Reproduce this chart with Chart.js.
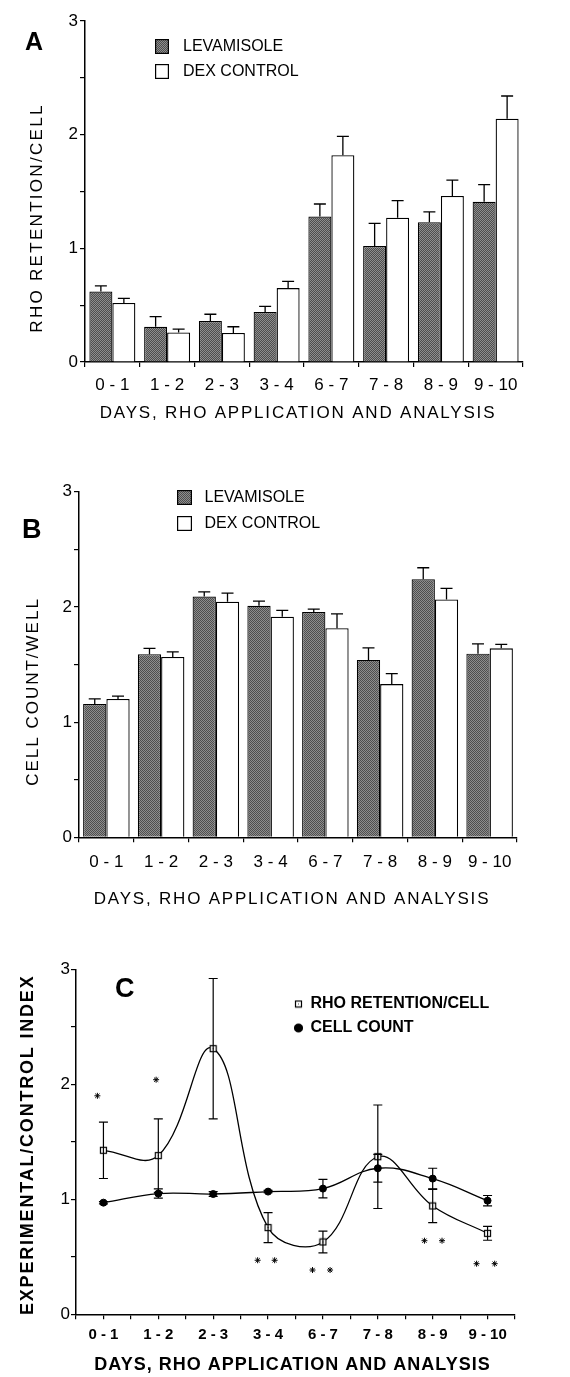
<!DOCTYPE html>
<html><head><meta charset="utf-8">
<script src="https://cdn.jsdelivr.net/npm/chart.js@4.4.1/dist/chart.umd.min.js"></script>
<style>
html,body{margin:0;padding:0;background:#fff;}
body{width:570px;height:1377px;position:relative;overflow:hidden;}
canvas{position:absolute;left:0;}
</style></head><body>
<canvas id="cA" width="570" height="425" style="top:0;width:570px;height:425px"></canvas>
<canvas id="cB" width="570" height="485" style="top:425px;width:570px;height:485px"></canvas>
<canvas id="cC" width="570" height="467" style="top:910px;width:570px;height:467px"></canvas>
<script>
// ---------- data ----------
const days = ['0 - 1','1 - 2','2 - 3','3 - 4','6 - 7','7 - 8','8 - 9','9 - 10'];
const yTickLabels = ['0','1','2','3'];
// Panel A: RHO retention / cell
const rhoLev    = [0.62, 0.31, 0.36, 0.44, 1.28, 1.02, 1.23, 1.41];
const rhoLevErr = [0.05, 0.09, 0.06, 0.05, 0.11, 0.20, 0.09, 0.15];
const rhoDex    = [0.52, 0.26, 0.255, 0.65, 1.82, 1.27, 1.46, 2.14];
const rhoDexErr = [0.04, 0.03, 0.055, 0.06, 0.165, 0.15, 0.14, 0.20];
// Panel B: cell count / well
const cellLev    = [1.157, 1.59, 2.09, 2.01, 1.955, 1.54, 2.24, 1.594];
const cellLevErr = [0.045, 0.05, 0.04, 0.04, 0.025, 0.105, 0.10, 0.085];
const cellDex    = [1.20, 1.565, 2.045, 1.915, 1.815, 1.33, 2.065, 1.64];
const cellDexErr = [0.025, 0.045, 0.075, 0.055, 0.125, 0.09, 0.095, 0.035];
// Panel C: experimental / control index
const rhoIndex     = [1.426, 1.38, 2.31, 0.754, 0.629, 1.37, 0.942, 0.704];
const rhoIndexErr  = [0.245, 0.32, 0.61, 0.13, 0.095, 0.45, 0.145, 0.06];
const cellIndex    = [0.971, 1.05, 1.046, 1.067, 1.093, 1.27, 1.18, 0.988];
const cellIndexErr = [0.01, 0.04, 0.02, 0.01, 0.08, 0.12, 0.09, 0.045];
// significance asterisks (x in category units, y in index units)
const starX = [-0.11, 0.96, 2.81, 3.12, 3.81, 4.13, 5.85, 6.17, 6.80, 7.13];
const starY = [1.90, 2.04, 0.47, 0.47, 0.385, 0.385, 0.64, 0.64, 0.44, 0.44];

// ---------- styles ----------
Chart.defaults.font.family = "'Liberation Sans', Arial, Helvetica, sans-serif";
Chart.defaults.color = '#000';

function makePattern() {
  const t = document.createElement('canvas'); t.width = 2; t.height = 2;
  const g = t.getContext('2d');
  g.fillStyle = '#4e4e4e'; g.fillRect(0, 0, 2, 2);
  g.fillStyle = '#8e8e8e'; g.fillRect(0, 0, 1, 1); g.fillRect(1, 1, 1, 1);
  return document.createElement('canvas').getContext('2d').createPattern(t, 'repeat');
}
const stipple = makePattern();
function legendBox(fill, w, h) {
  const c = document.createElement('canvas'); c.width = w; c.height = h;
  const g = c.getContext('2d');
  g.fillStyle = fill; g.fillRect(0, 0, w, h);
  g.strokeStyle = '#000'; g.lineWidth = 1.2; g.strokeRect(0.6, 0.6, w - 1.2, h - 1.2);
  return c;
}
function squareMarker() {
  const c = document.createElement('canvas'); c.width = 9; c.height = 9;
  const g = c.getContext('2d');
  g.fillStyle = '#fff'; g.fillRect(1, 1, 7, 7);
  g.strokeStyle = '#000'; g.lineWidth = 1.2; g.strokeRect(1.5, 1.5, 6, 6);
  g.fillStyle = '#444'; g.fillRect(4, 4, 1, 1);
  return c;
}
const sqImg = squareMarker();

// ---------- plugins ----------
const titleTweak = {
  id: 'titleTweak',
  beforeDraw(chart, args, opts) {
    ['x', 'y'].forEach(id => {
      const s = chart.scales[id]; const o = opts[id];
      if (!s || !o || s._tweaked) return;
      const sp = o.sp || 0, dx = o.dx || 0, dy = o.dy || 0;
      const orig = s.drawTitle.bind(s);
      s.drawTitle = function () {
        const c = this.ctx; c.save();
        c.letterSpacing = sp + 'px'; c.translate(dx, dy);
        orig(); c.restore();
      };
      s._tweaked = true;
    });
  }
};
const legendPos = {
  id: 'legendPos',
  beforeDraw(chart, args, opts) {
    const lg = chart.legend; if (!lg) return;
    lg.left = opts.left; lg.top = opts.top;
    lg.right = opts.left + 300; lg.bottom = opts.top + 200;
  }
};
const panelLabel = {
  id: 'panelLabel',
  afterDraw(chart, args, o) {
    const c = chart.ctx; c.save();
    c.font = o.font; c.fillStyle = '#000'; c.textBaseline = 'alphabetic';
    c.fillText(o.text, o.x, o.y); c.restore();
  }
};
const errorBars = {
  id: 'errorBars',
  afterDatasetsDraw(chart, args, opts) {
    const ctx = chart.ctx, ys = chart.scales.y;
    chart.data.datasets.forEach((ds, di) => {
      if (!ds.errors) return;
      const meta = chart.getDatasetMeta(di);
      ctx.save(); ctx.strokeStyle = '#000'; ctx.lineWidth = opts.width;
      meta.data.forEach((el, i) => {
        const v = ds.data[i]; const val = (typeof v === 'object') ? v.y : v;
        const e = ds.errors[i];
        const top = ys.getPixelForValue(val + e);
        const bot = opts.both ? ys.getPixelForValue(val - e) : el.y;
        const x = el.x, c = opts.cap;
        ctx.beginPath();
        ctx.moveTo(x, bot); ctx.lineTo(x, top);
        ctx.moveTo(x - c, top); ctx.lineTo(x + c, top);
        if (opts.both) { ctx.moveTo(x - c, bot); ctx.lineTo(x + c, bot); }
        ctx.stroke();
      });
      ctx.restore();
    });
  }
};
const allPlugins = [titleTweak, legendPos, panelLabel, errorBars];

const intLabel = v => Number.isInteger(v) ? yTickLabels[v] : '';
const legendImgLabels = chart => {
  const items = Chart.defaults.plugins.legend.labels.generateLabels(chart);
  items.forEach(it => { const ds = chart.data.datasets[it.datasetIndex]; if (ds.legendImg) it.pointStyle = ds.legendImg; });
  return items;
};

function barChart(id, cfg) {
  return new Chart(document.getElementById(id), {
    type: 'bar',
    data: {
      labels: days,
      datasets: [
        { label: 'LEVAMISOLE', data: cfg.lev, errors: cfg.levErr, backgroundColor: stipple,
          borderColor: '#000', borderWidth: 1.2, legendImg: legendBox(stipple, cfg.box[0], cfg.box[1]),
          categoryPercentage: cfg.catPct, barPercentage: 1.0 },
        { label: 'DEX CONTROL', data: cfg.dex, errors: cfg.dexErr, backgroundColor: '#fff',
          borderColor: '#000', borderWidth: 1.3, legendImg: legendBox('#fff', cfg.box[0], cfg.box[1]),
          categoryPercentage: cfg.catPct, barPercentage: 1.0 }
      ]
    },
    options: {
      responsive: false, animation: false, devicePixelRatio: 1, events: [],
      layout: { padding: cfg.pad, autoPadding: false },
      scales: {
        x: {
          offset: true,
          grid: { offset: true, drawOnChartArea: false, tickLength: 5, color: '#000', lineWidth: 1.2 },
          border: { color: '#000', width: 1.5 },
          ticks: { color: '#000', font: { size: 17 }, padding: cfg.xTickPad, maxRotation: 0, autoSkip: false },
          title: { display: true, text: 'DAYS, RHO APPLICATION AND ANALYSIS', color: '#000', font: { size: 17 },
                   padding: { top: 0, bottom: cfg.xTitlePad } },
          afterFit: s => { s.height = cfg.xH; }
        },
        y: {
          min: 0, max: 3,
          grid: { drawOnChartArea: false, tickLength: 5, color: '#000', lineWidth: 1.2 },
          border: { color: '#000', width: 1.5 },
          ticks: { stepSize: 0.5, callback: intLabel, color: '#000', font: { size: 17 }, padding: 2 },
          title: { display: true, text: cfg.yTitle, color: '#000', font: { size: 17 },
                   padding: { top: cfg.yTitlePad, bottom: 0 } },
          afterFit: s => { s.width = cfg.yW; }
        }
      },
      plugins: {
        tooltip: { enabled: false },
        legend: {
          position: 'chartArea', align: 'start',
          labels: { usePointStyle: true, pointStyleWidth: cfg.psw, padding: cfg.legPad, color: '#000',
                    font: { size: 16 }, textAlign: 'left', generateLabels: legendImgLabels }
        },
        legendPos: cfg.legPos,
        titleTweak: cfg.tweak,
        panelLabel: cfg.panel,
        errorBars: { width: 1.3, cap: 6, both: false }
      }
    },
    plugins: allPlugins
  });
}

barChart('cA', {
  lev: rhoLev, levErr: rhoLevErr, dex: rhoDex, dexErr: rhoDexErr,
  catPct: 0.84, box: [14, 15], psw: 26, legPad: 9, legPos: { left: 140, top: 29.5 },
  pad: { left: 0, top: 21, right: 47, bottom: 0 }, xH: 63, yW: 85,
  xTickPad: 8, xTitlePad: 1.8, yTitlePad: 26.8, yTitle: 'RHO RETENTION/CELL',
  tweak: { x: { sp: 1.8, dx: -6, dy: 0 }, y: { sp: 2.3, dx: 0, dy: 26.5 } },
  panel: { text: 'A', x: 25, y: 50, font: "bold 25px 'Liberation Sans', Arial, sans-serif" }
});

barChart('cB', {
  lev: cellLev, levErr: cellLevErr, dex: cellDex, dexErr: cellDexErr,
  catPct: 0.85, box: [15, 15], psw: 24, legPad: 10, legPos: { left: 162.5, top: 54.5 },
  pad: { left: 0, top: 66.7, right: 53, bottom: 0 }, xH: 72.7, yW: 79,
  xTickPad: 9.5, xTitlePad: 0.4, yTitlePad: 22.8, yTitle: 'CELL COUNT/WELL',
  tweak: { x: { sp: 1.8, dx: -6, dy: 0 }, y: { sp: 2.0, dx: 0, dy: 27 } },
  panel: { text: 'B', x: 22, y: 113, font: "bold 27px 'Liberation Sans', Arial, sans-serif" }
});

new Chart(document.getElementById('cC'), {
  type: 'line',
  data: {
    datasets: [
      { label: 'RHO RETENTION/CELL', data: rhoIndex.map((v, i) => ({ x: i, y: v })), errors: rhoIndexErr,
        borderColor: '#000', borderWidth: 1.3, tension: 0.4, fill: false,
        pointStyle: sqImg, pointRadius: 4, pointBackgroundColor: '#fff', pointBorderColor: '#000' },
      { label: 'CELL COUNT', data: cellIndex.map((v, i) => ({ x: i, y: v })), errors: cellIndexErr,
        borderColor: '#000', borderWidth: 1.3, tension: 0.4, fill: false,
        pointStyle: 'circle', pointRadius: 3.5, pointBackgroundColor: '#000', pointBorderColor: '#000', pointBorderWidth: 1 },
      { label: 'significance', data: starX.map((x, i) => ({ x: x, y: starY[i] })), showLine: false,
        pointStyle: 'star', pointRadius: 3, borderColor: '#000', pointBorderColor: '#000', pointBorderWidth: 1 }
    ]
  },
  options: {
    responsive: false, animation: false, devicePixelRatio: 1, events: [],
    layout: { padding: { left: 0, top: 59.3, right: 55, bottom: 0 }, autoPadding: false },
    scales: {
      x: {
        type: 'linear', min: -0.5, max: 7.5,
        grid: { drawOnChartArea: false, tickLength: 5, color: '#000', lineWidth: 1.2 },
        border: { color: '#000', width: 1.5 },
        ticks: { stepSize: 0.5, autoSkip: false, maxRotation: 0, color: '#000', font: { size: 15, weight: 'bold' }, padding: 6.7,
                 callback: v => (Number.isInteger(v) && v >= 0 && v < days.length) ? days[v] : '' },
        title: { display: true, text: 'DAYS, RHO APPLICATION AND ANALYSIS', color: '#000',
                 font: { size: 18, weight: 'bold' }, padding: { top: 0, bottom: 1.2 } },
        afterFit: s => { s.height = 62.7; }
      },
      y: {
        min: 0, max: 3,
        grid: { drawOnChartArea: false, tickLength: 5, color: '#000', lineWidth: 1.2 },
        border: { color: '#000', width: 1.5 },
        ticks: { stepSize: 0.5, callback: intLabel, color: '#000', font: { size: 17 }, padding: 1 },
        title: { display: true, text: 'EXPERIMENTAL/CONTROL INDEX', color: '#000', font: { size: 18, weight: 'bold' },
                 padding: { top: 17.2, bottom: 0 } },
        afterFit: s => { s.width = 76; }
      }
    },
    plugins: {
      tooltip: { enabled: false },
      legend: {
        position: 'chartArea', align: 'start',
        labels: { usePointStyle: true, pointStyleWidth: 8, boxHeight: 5.66, padding: 8, color: '#000',
                  font: { size: 16, weight: 'bold' }, textAlign: 'left',
                  filter: item => item.datasetIndex < 2 }
      },
      legendPos: { left: 286.5, top: 78 },
      titleTweak: { x: { sp: 1.0, dx: -3, dy: 0 }, y: { sp: 1.8, dx: 0, dy: 3 } },
      panelLabel: { text: 'C', x: 115, y: 87, font: "bold 27px 'Liberation Sans', Arial, sans-serif" },
      errorBars: { width: 1.2, cap: 4.5, both: true }
    }
  },
  plugins: allPlugins
});
</script>
</body></html>
